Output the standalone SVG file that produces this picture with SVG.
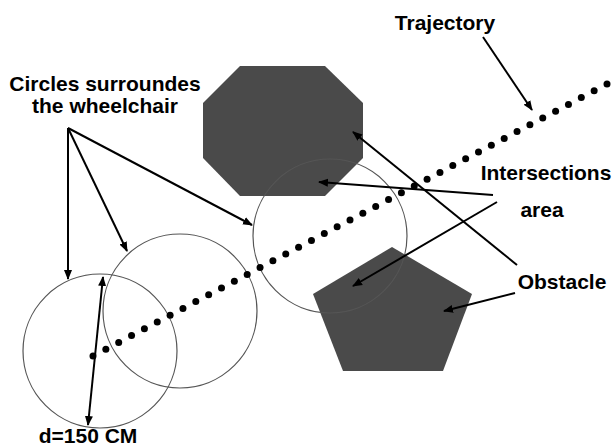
<svg xmlns="http://www.w3.org/2000/svg" width="616" height="447" viewBox="0 0 616 447">
  <style>
    .lbl { font-family: "Liberation Sans", Arial, sans-serif; font-weight: bold; font-size: 21px; fill: #000; }
    .obst { fill: #4a4a4a; }
    .ring { fill: none; stroke: #555; stroke-width: 1.2; }
    .arr { stroke: #000; stroke-width: 2; fill: none; marker-end: url(#tip); }
    .dot { fill: #000; }
  </style>
  <defs>
    <marker id="tip" viewBox="0 0 10 10" refX="9" refY="5" markerWidth="5" markerHeight="5" orient="auto" markerUnits="strokeWidth">
      <path d="M0,1 L10,5 L0,9 z" fill="#000"/>
    </marker>
    <marker id="tipStart" viewBox="0 0 10 10" refX="1" refY="5" markerWidth="5" markerHeight="5" orient="auto" markerUnits="strokeWidth">
      <path d="M10,1 L0,5 L10,9 z" fill="#000"/>
    </marker>
  </defs>

  <rect width="616" height="447" fill="#fff"/>

  <!-- obstacles -->
  <g id="octagon">
    <polygon class="obst" points="240,66 325,66 363,103 363,158 325,196 240,196 203,158 203,103"/>
  </g>
  <g id="pentagon">
    <polygon class="obst" points="392,247 472,294 443,371 343,371 313,294"/>
  </g>

  <!-- circles around the wheelchair -->
  <g id="circle-1"><circle class="ring" cx="100" cy="351" r="77"/></g>
  <g id="circle-2"><circle class="ring" cx="180" cy="311" r="77"/></g>
  <g id="circle-3"><circle class="ring" cx="330" cy="236" r="77"/></g>

  <!-- dotted trajectory -->
  <g id="trajectory">
    <circle class="dot" cx="93.0" cy="356.0" r="3.5"/>
    <circle class="dot" cx="105.85" cy="349.2" r="3.5"/>
    <circle class="dot" cx="118.7" cy="342.4" r="3.5"/>
    <circle class="dot" cx="131.55" cy="335.6" r="3.5"/>
    <circle class="dot" cx="144.4" cy="328.8" r="3.5"/>
    <circle class="dot" cx="157.25" cy="322.0" r="3.5"/>
    <circle class="dot" cx="170.1" cy="315.2" r="3.5"/>
    <circle class="dot" cx="182.95" cy="308.4" r="3.5"/>
    <circle class="dot" cx="195.8" cy="301.6" r="3.5"/>
    <circle class="dot" cx="208.65" cy="294.8" r="3.5"/>
    <circle class="dot" cx="221.5" cy="288.0" r="3.5"/>
    <circle class="dot" cx="234.35" cy="281.2" r="3.5"/>
    <circle class="dot" cx="247.2" cy="274.4" r="3.5"/>
    <circle class="dot" cx="260.05" cy="267.6" r="3.5"/>
    <circle class="dot" cx="272.9" cy="260.8" r="3.5"/>
    <circle class="dot" cx="285.75" cy="254.0" r="3.5"/>
    <circle class="dot" cx="298.6" cy="247.2" r="3.5"/>
    <circle class="dot" cx="311.45" cy="240.4" r="3.5"/>
    <circle class="dot" cx="324.3" cy="233.6" r="3.5"/>
    <circle class="dot" cx="337.15" cy="226.8" r="3.5"/>
    <circle class="dot" cx="350.0" cy="220.0" r="3.5"/>
    <circle class="dot" cx="362.85" cy="213.2" r="3.5"/>
    <circle class="dot" cx="375.7" cy="206.4" r="3.5"/>
    <circle class="dot" cx="388.55" cy="199.6" r="3.5"/>
    <circle class="dot" cx="401.4" cy="192.8" r="3.5"/>
    <circle class="dot" cx="414.25" cy="186.0" r="3.5"/>
    <circle class="dot" cx="427.1" cy="179.2" r="3.5"/>
    <circle class="dot" cx="439.95" cy="172.4" r="3.5"/>
    <circle class="dot" cx="452.8" cy="165.6" r="3.5"/>
    <circle class="dot" cx="465.65" cy="158.8" r="3.5"/>
    <circle class="dot" cx="478.5" cy="152.0" r="3.5"/>
    <circle class="dot" cx="491.35" cy="145.2" r="3.5"/>
    <circle class="dot" cx="504.2" cy="138.4" r="3.5"/>
    <circle class="dot" cx="517.05" cy="131.6" r="3.5"/>
    <circle class="dot" cx="529.9" cy="124.8" r="3.5"/>
    <circle class="dot" cx="542.75" cy="118.0" r="3.5"/>
    <circle class="dot" cx="555.6" cy="111.2" r="3.5"/>
    <circle class="dot" cx="568.45" cy="104.4" r="3.5"/>
    <circle class="dot" cx="581.3" cy="97.6" r="3.5"/>
    <circle class="dot" cx="594.15" cy="90.8" r="3.5"/>
    <circle class="dot" cx="607.0" cy="84.0" r="3.5"/>
  </g>

  <!-- pointer lines -->
  <g id="connectors">
    <line class="arr" x1="68" y1="128" x2="68" y2="279"/>
    <line class="arr" x1="68" y1="128" x2="127" y2="251"/>
    <line class="arr" x1="68" y1="128" x2="252" y2="225"/>
    <line class="arr" x1="103" y1="277" x2="88" y2="425" marker-start="url(#tipStart)"/>
    <line class="arr" x1="483" y1="37" x2="532" y2="110"/>
    <line class="arr" x1="493" y1="195" x2="319" y2="182"/>
    <line class="arr" x1="497" y1="202" x2="353" y2="286"/>
    <line class="arr" x1="517" y1="265" x2="353" y2="132"/>
    <line class="arr" x1="515" y1="293" x2="444" y2="311"/>
  </g>

  <!-- labels -->
  <g id="label-circles">
    <text class="lbl" x="105" y="91" text-anchor="middle">Circles surroundes</text>
    <text class="lbl" x="105" y="113" text-anchor="middle">the wheelchair</text>
  </g>
  <g id="label-trajectory">
    <text class="lbl" x="445" y="30" text-anchor="middle">Trajectory</text>
  </g>
  <g id="label-intersections">
    <text class="lbl" x="546" y="180" text-anchor="middle">Intersections</text>
    <text class="lbl" x="542" y="217" text-anchor="middle">area</text>
  </g>
  <g id="label-obstacle">
    <text class="lbl" x="562" y="289" text-anchor="middle">Obstacle</text>
  </g>
  <g id="label-diameter">
    <text class="lbl" x="88" y="443" text-anchor="middle">d=150 CM</text>
  </g>
</svg>
